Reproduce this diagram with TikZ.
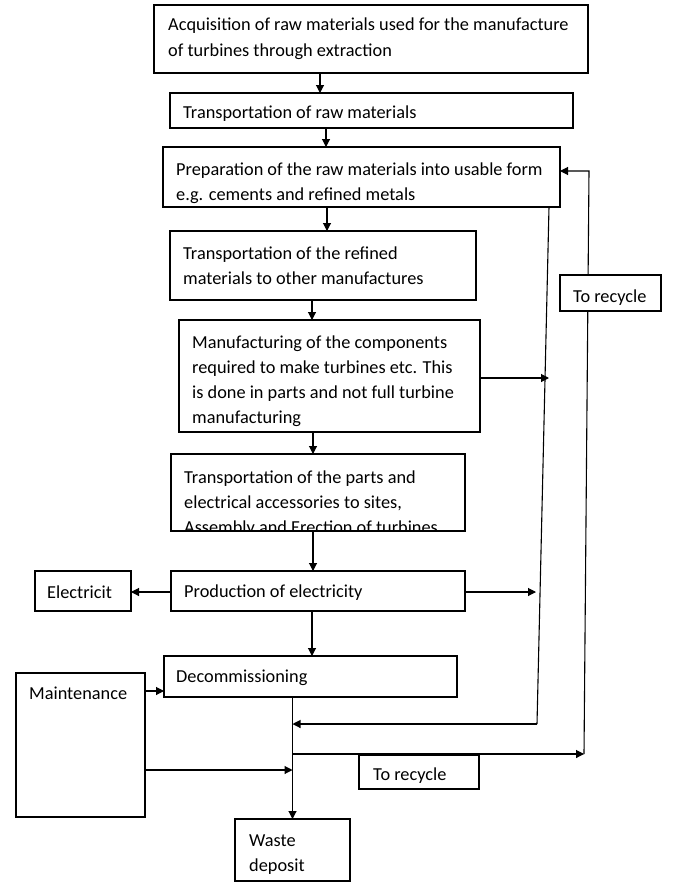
\documentclass[tikz,border=0pt]{standalone}
\usepackage{fontspec}
\setmainfont{Carlito}
\usetikzlibrary{arrows.meta,backgrounds}
\begin{document}
\begin{tikzpicture}[x=1pt,y=-1pt,
  box/.style={draw,fill=white,line width=1.1pt,anchor=north west,inner sep=0pt,outer sep=0pt},
  txt/.style={anchor=base west,inner sep=0pt,font=\fontsize{18.3}{25}\selectfont,align=left},
  ln/.style={line width=1.1pt},
  arr/.style={line width=1.1pt,-{Triangle[length=8pt,width=8pt]}}]
\useasboundingbox (0,0) rectangle (687,894);
% boxes
\node[box,minimum width=434pt,minimum height=68pt] (b1) at (154,5) {};
\node[box,minimum width=403pt,minimum height=35pt] (b2) at (170,93) {};
\node[box,minimum width=397pt,minimum height=60pt] (b3) at (163,147) {};
\node[box,minimum width=306pt,minimum height=69pt] (b4) at (170,231) {};
\node[box,minimum width=301pt,minimum height=112pt] (b5) at (179,320) {};
\node[box,minimum width=294pt,minimum height=77pt] (b6) at (171,454) {};
\node[box,minimum width=294pt,minimum height=40pt] (b7) at (171,571) {};
\node[box,minimum width=96pt,minimum height=40pt] (b8) at (35,571) {};
\node[box,minimum width=293pt,minimum height=41pt] (b9) at (164,656) {};
\node[box,minimum width=129pt,minimum height=144pt] (b10) at (16,673) {};
\node[box,minimum width=115pt,minimum height=62pt] (b11) at (235,819) {};
\node[box,minimum width=101pt,minimum height=36pt] (b12) at (560,275) {};
\node[box,minimum width=120pt,minimum height=34pt] (b13) at (359,755) {};
% texts (anchor = baseline of last line)
\node[txt] (t1) at (168,56) {Acquisition of raw materials used for the manufacture\\of turbines through extraction};
\node[txt] (t2) at (183,118) {Transportation of raw materials};
\node[txt] (t3) at (176,200) {Preparation of the raw materials into usable form\\e.g. cements and refined metals};
\node[txt] (t4) at (183,284) {Transportation of the refined\\materials to other manufactures};
\node[txt] (t5) at (192,423) {Manufacturing of the components\\required to make turbines etc. This\\is done in parts and not full turbine\\manufacturing};
\begin{scope}
\clip ([yshift=-0.6pt]b6.north west) rectangle ([yshift=0.6pt]b6.south east);
\node[txt] (t6) at (184,533.5) {Transportation of the parts and\\electrical accessories to sites,\\Assembly and Erection of turbines};
\end{scope}
\draw[line width=1.1pt] (b6.south west) -- (b6.south east);
\node[txt] (t7) at (184,597) {Production of electricity};
\node[txt] (t8) at (47,598) {Electricit};
\node[txt] (t9) at (176,682) {Decommissioning};
\node[txt] (t10) at (29,699) {Maintenance};
\node[txt] (t11) at (249,871) {Waste\\deposit};
\node[txt] (t12) at (573,302) {To recycle};
\node[txt] (t13) at (373,780) {To recycle};
% free-end coordinates
\coordinate (p5) at (549,378);
\coordinate (p7) at (536,592);
\coordinate (s0) at (549,207);
\coordinate (s1) at (537,724);
\coordinate (r1) at (584,754);
\coordinate (r2) at (589,171);
\begin{pgfonlayer}{background}
\fill[white] (0,0) rectangle (687,894);
\draw[arr] (b1.south -| 320,0) -- (b2.north -| 320,0);
\draw[arr] (b2.south -| 326,0) -- (b3.north -| 326,0);
\draw[arr] (b3.south -| 327,0) -- (b4.north -| 327,0);
\draw[arr] (b4.south -| 312,0) -- (b5.north -| 312,0);
\draw[arr] (b5.south -| 313,0) -- (b6.north -| 313,0);
\draw[arr] (b6.south -| 313,0) -- (b7.north -| 313,0);
\draw[arr] (b7.south -| 312,0) -- (b9.north -| 312,0);
\draw[arr] (b7.west |- 0,592) -- (b8.east |- 0,592);
\draw[arr] (b7.east |- p7) -- (p7);
\draw[arr] (b5.east |- p5) -- (p5);
\draw[ln] (s0) -- (s1);
\draw[arr] (s1) -- (s1 -| b11.north);
\draw[arr] (b9.south -| b11.north) -- (b11.north);
\draw[arr] (b10.east |- 0,691) -- (b9.west |- 0,691);
\draw[arr] (b10.east |- 0,770) -- (b11.north |- 0,770);
\draw[arr] (b11.north |- r1) -- (r1);
\draw[arr] (r1) -- (r2) -- (b3.east |- r2);
\end{pgfonlayer}
\end{tikzpicture}
\end{document}
